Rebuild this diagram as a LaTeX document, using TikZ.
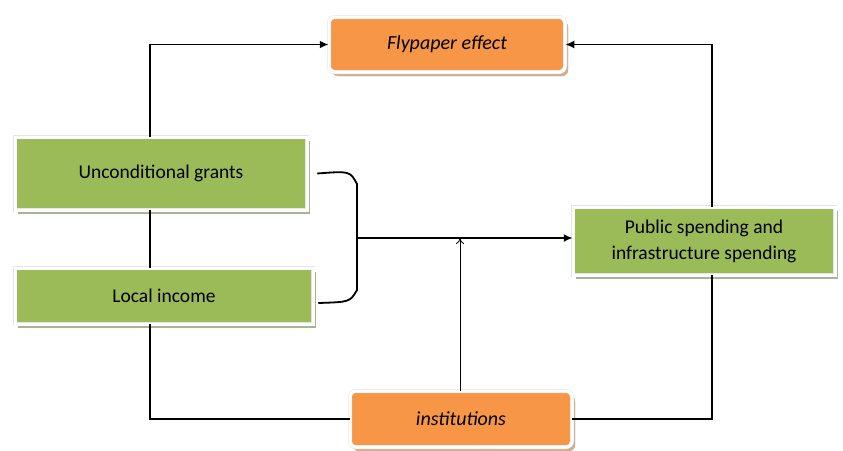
\documentclass[tikz,border=0pt]{standalone}
\usepackage{fontspec}
\setmainfont{Carlito}
\usetikzlibrary{arrows.meta,shadows}

\definecolor{boxorange}{HTML}{F79646}
\definecolor{boxgreen}{HTML}{9BBB59}
\definecolor{shadegreen}{HTML}{A9B496}
\definecolor{shadeorange}{HTML}{D2AE90}

\tikzset{
  greenbox/.style={rectangle, fill=boxgreen, draw=gray!20, double=white,
    double distance=3pt, line width=0.5pt, align=center, inner sep=0pt,
    drop shadow={shadow xshift=3pt, shadow yshift=-4pt, fill=shadegreen, opacity=1}},
  orangebox/.style={greenbox, fill=boxorange, rounded corners=6pt,
    font=\fontsize{20}{24}\selectfont\itshape,
    drop shadow={shadow xshift=3pt, shadow yshift=-4pt, fill=shadeorange, opacity=1}},
  link/.style={line width=1.8pt},
  tip/.style={-{Latex[length=9pt,width=8pt]}}
}

\begin{document}
\begin{tikzpicture}[x=1pt, y=-1pt, font=\fontsize{19.5}{26}\selectfont]
\useasboundingbox (0,0) rectangle (843,450);
\fill[white] (0,0) rectangle (843,450);

\coordinate (lx) at (150,0);
\coordinate (rx) at (712,0);
\coordinate (ux) at (460,0);
\coordinate (br) at (357,238);

\node [orangebox, minimum width=236, minimum height=55] (fly) at (447,44.5) {Flypaper effect};
\node [greenbox, minimum width=292, minimum height=73] (ugr) at (161,173.5) {Unconditional grants};
\node [greenbox, minimum width=298, minimum height=56] (inc) at (164,296) {Local income};
\node [greenbox, minimum width=262, minimum height=68] (pub) at (704,241) {Public spending and\\infrastructure spending};
\node [orangebox, minimum width=222, minimum height=56] (ins) at (461,419) {institutions};

% left column
\draw [link, tip] (ugr.north -| lx) |- (fly.west);
\draw [link] (ugr.south -| lx) -- (inc.north -| lx);
\draw [link] (inc.south -| lx) |- (ins.west);

% right column
\draw [link, tip] (pub.north -| rx) |- (fly.east);
\draw [link] (pub.south -| rx) |- (ins.east);

% bracket joining the two sources
\draw [link] ([xshift=10]ugr.east) .. controls (350,171) .. (357,184) -- (357,290)
  .. controls (350,302) .. ([shift={(5,7)}]inc.east);
\draw [link, tip] (br) -- (br -| pub.west);

\draw [line width=0.8pt, -{To[length=6pt,width=8pt]}] (ins.north -| ux) -- (br -| ux);

\end{tikzpicture}
\end{document}
